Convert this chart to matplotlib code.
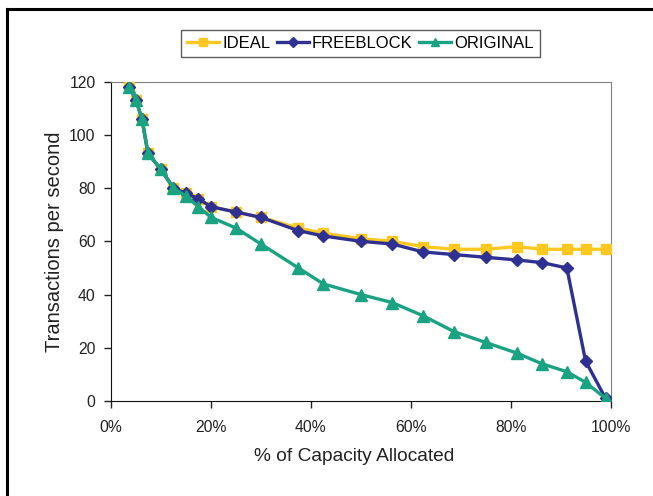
import matplotlib
matplotlib.use("Agg")
from matplotlib import pyplot as plt
from matplotlib.lines import Line2D

# % of capacity allocated
capacity = [3.7, 5, 6.2, 7.4, 10, 12.5, 15, 17.5, 20, 25, 30, 37.5, 42.5, 50,
            56.25, 62.5, 68.75, 75, 81.25, 86.25, 91.25, 95, 99]

ideal = [118, 113, 106, 93, 87, 80, 78, 76, 73, 71, 69, 65, 63, 61,
         60, 58, 57, 57, 58, 57, 57, 57, 57]
freeblock = [118, 113, 106, 93, 87, 80, 78, 76, 73, 71, 69, 64, 62, 60,
             59, 56, 55, 54, 53, 52, 50, 15, 1]
original = [118, 113, 106, 93, 87, 80, 77, 73, 69, 65, 59, 50, 44, 40,
            37, 32, 26, 22, 18, 14, 11, 7, 1]

x_ticks = [0, 20, 40, 60, 80, 100]
y_ticks = [0, 20, 40, 60, 80, 100, 120]

plt.rcParams["font.family"] = ["Liberation Sans", "DejaVu Sans"]

fig = plt.figure(figsize=(6.53, 4.96), dpi=100)
ax = fig.add_axes([0.170, 0.1915, 0.765, 0.644])

ax.plot(capacity, ideal, color="#FFC821", lw=2.4, marker="s", ms=7,
        label="IDEAL", zorder=3)
ax.plot(capacity, freeblock, color="#2E3192", lw=2.4, marker="D", ms=6,
        label="FREEBLOCK", zorder=4)
ax.plot(capacity, original, color="#1AA382", lw=2.4, marker="^", ms=8,
        label="ORIGINAL", zorder=5)

ax.set_xlim(0, 100)
ax.set_ylim(0, 120)
ax.set_xticks(x_ticks)
ax.set_xticklabels([f"{t}%" for t in x_ticks])
ax.set_yticks(y_ticks)
ax.tick_params(labelsize=11.3, length=5, width=1, color="#222222",
               labelcolor="#222222")
ax.tick_params(axis="x", pad=9)
ax.tick_params(axis="y", pad=6)
for side in ("top", "right"):
    ax.spines[side].set_color("#808080")
for side in ("left", "bottom"):
    ax.spines[side].set_color("#111111")

ax.set_xlabel("% of Capacity Allocated", fontsize=13.8, color="#222222", labelpad=8)
ax.set_ylabel("Transactions per second", fontsize=14.5, color="#222222", labelpad=4)
ax.xaxis.set_label_coords(0.487, -0.147)

leg = fig.legend(loc="center", bbox_to_anchor=(0.552, 0.9125), ncol=3,
                 fontsize=12.0, frameon=True, fancybox=False, edgecolor="#333333",
                 handlelength=1.9, handletextpad=0.2, columnspacing=0.4,
                 borderpad=0.35, borderaxespad=0, markerscale=0.8)
leg.get_frame().set_linewidth(1)

# outer chart border (only left and top visible in the crop)
fig.add_artist(Line2D([7 / 653, 7 / 653], [0, 1 - 9 / 496], color="black", lw=2.2,
                      transform=fig.transFigure))
fig.add_artist(Line2D([7 / 653, 1], [1 - 9 / 496, 1 - 9 / 496], color="black", lw=2.2,
                      transform=fig.transFigure))

fig.savefig("out.png", dpi=100)
